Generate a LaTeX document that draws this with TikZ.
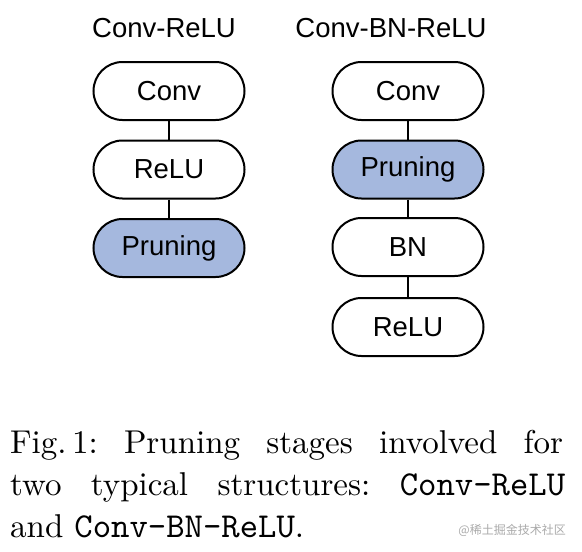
\documentclass[tikz,border=0pt]{standalone}
\usepackage{fontspec}
\setmainfont{lmroman10-regular}[Extension=.otf]
\setmonofont{lmmono10-regular}[Extension=.otf]
\newfontfamily\arialf{Liberation Sans}
\newfontfamily\cjkf{Noto Sans CJK SC}
\definecolor{prunefill}{RGB}{165,184,222}
\definecolor{wmgray}{RGB}{170,170,170}
\newcommand{\captt}[1]{{\ttfamily\fontsize{35}{42}\selectfont #1}}
\tikzset{
  blk/.style={draw=black, line width=2pt, rounded corners=29pt, minimum width=151pt,
    minimum height=58pt, inner sep=0pt, fill=white,
    font=\arialf\fontsize{27.5}{33}\selectfont},
  prune/.style={blk, fill=prunefill},
  ttl/.style={anchor=base, inner sep=0pt, font=\arialf\fontsize{27.5}{33}\selectfont},
  link/.style={draw=black, line width=1.6pt},
  capline/.style={anchor=base west, inner sep=0pt, font=\frenchspacing\fontsize{33}{42}\selectfont}
}
\begin{document}
\begin{tikzpicture}[x=1pt,y=-1pt]
\useasboundingbox (0,0) rectangle (582,552);
\fill[white] (0,0) rectangle (582,552);
% left column
\node[ttl] (t1) at (164,37) {Conv-ReLU};
\node[blk] (l1) at (169,91) {Conv};
\node[blk] (l2) at (169,169.5) {ReLU};
\node[prune] (l3) at (169,248) {Pruning};
\draw[link] (l1) -- (l2);
\draw[link] (l2) -- (l3);
% right column
\node[ttl] (t2) at (391,37) {Conv-BN-ReLU};
\node[blk] (r1) at (408,91) {Conv};
\node[prune] (r2) at (408,169.5) {Pruning};
\node[blk] (r3) at (408,247) {BN};
\node[blk] (r4) at (408,327) {ReLU};
\draw[link] (r1) -- (r2);
\draw[link] (r2) -- (r3);
\draw[link] (r3) -- (r4);
% caption
\node[capline] (c1) at (10,453) {\hbox to 553pt{Fig.\,1: Pruning stages involved for}};
\node[capline] (c2) at (10,495) {\hbox to 555pt{two typical structures: \captt{Conv-ReLU}}};
\node[capline] (c3) at (10,537) {and \captt{Conv-BN-ReLU}.};
\node[anchor=east, inner sep=0pt, text=wmgray, font=\cjkf\fontsize{12}{14}\selectfont] (wm) at (566,530) {@稀土掘金技术社区};
\end{tikzpicture}
\end{document}
